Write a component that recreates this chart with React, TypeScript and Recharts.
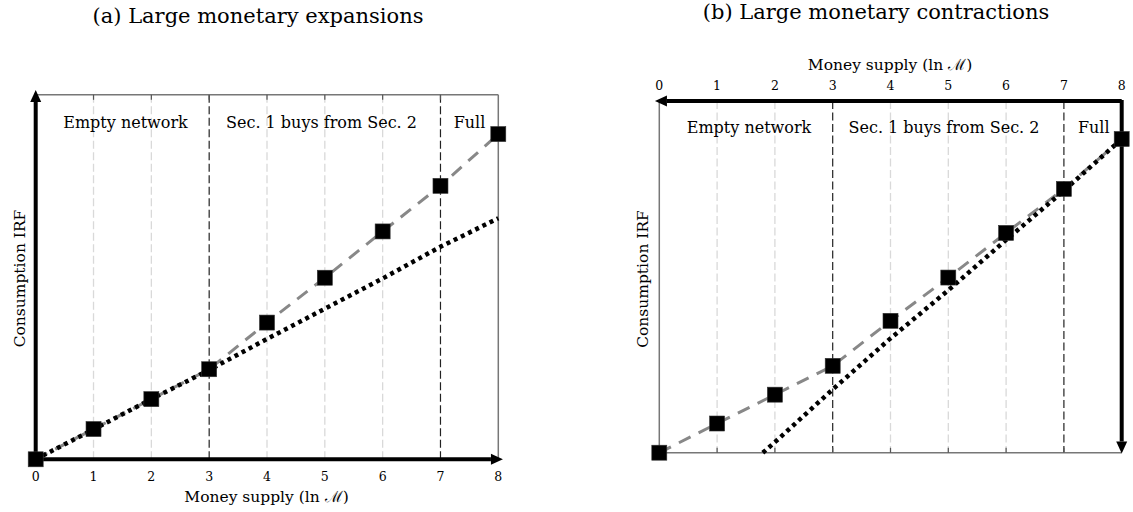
import React from 'react';
import { ComposedChart, Line, Scatter, XAxis, YAxis, ReferenceLine } from 'recharts';

// money supply grid (ln M)
const moneyTicks = [0, 1, 2, 3, 4, 5, 6, 7, 8];
const regimeBreaks = [3, 7];
const lightGrid = [1, 2, 4, 5, 6];
const borderTicks = [1, 2, 3, 4, 5, 6, 7];

// consumption IRF at each ln M (same in both panels)
const irfSquares = [0, 0.83, 1.65, 2.47, 3.75, 4.98, 6.25, 7.5, 8.92];

// dotted benchmark, expansions
const expansionDotted = [0, 0.82, 1.65, 2.45, 3.3, 4.13, 4.96, 5.83, 6.61];

// dotted benchmark, contractions
const contractionDottedX = [1.79, 2, 3, 4, 5, 6, 7, 8];
const contractionDotted = [0, 0.3, 1.8, 3.25, 4.62, 6.05, 7.45, 8.92];

const squareData = moneyTicks.map((x, i) => ({ x, y: irfSquares[i] }));
const expDottedData = moneyTicks.map((x, i) => ({ x, y: expansionDotted[i] }));
const conDottedData = contractionDottedX.map((x, i) => ({ x, y: contractionDotted[i] }));

const FONT = '"DejaVu Serif", "Liberation Serif", serif';

const SquareMark = (props: any) => {
  const { cx, cy } = props;
  if (cx == null || cy == null) return null;
  return <rect x={cx - 7.5} y={cy - 7.5} width={15} height={15} fill="#000" stroke="#333" strokeWidth={0.6} />;
};

const arrowShape = (props: any) => {
  const { x1, y1, x2, y2 } = props;
  const dx = x2 - x1;
  const dy = y2 - y1;
  const len = Math.hypot(dx, dy) || 1;
  const ux = dx / len;
  const uy = dy / len;
  const head = 12;
  const half = 5.5;
  const bx = x2 - ux * head;
  const by = y2 - uy * head;
  return (
    <g>
      <line x1={x1} y1={y1} x2={bx} y2={by} stroke="#000" strokeWidth={4} />
      <polygon
        points={`${x2},${y2} ${bx - uy * half},${by + ux * half} ${bx + uy * half},${by - ux * half}`}
        fill="#000"
      />
    </g>
  );
};

const gridLines = () => [
  ...lightGrid.map((v) => (
    <ReferenceLine key={`g${v}`} x={v} stroke="#d9d9d9" strokeWidth={1.3} strokeDasharray="8 3.5" />
  )),
  ...regimeBreaks.map((v) => (
    <ReferenceLine key={`b${v}`} x={v} stroke="#222" strokeWidth={1.2} strokeDasharray="8 3.5" />
  )),
];

const tickStyle = { fill: '#000', fontSize: 12.5, fontFamily: FONT };

const ExpansionPanel = () => (
  <div style={{ position: 'absolute', left: 0, top: 0 }}>
    <ComposedChart width={560} height={512} margin={{ top: 94.7, right: 61.7, bottom: 22.7, left: 35.7 }}>
      <XAxis
        type="number"
        dataKey="x"
        domain={[0, 8]}
        ticks={moneyTicks}
        height={30}
        axisLine={false}
        tickLine={false}
        tickSize={10}
        tickMargin={3}
        tick={tickStyle}
      />
      <YAxis type="number" domain={[0, 10]} hide />
      {gridLines()}
      <ReferenceLine y={10} stroke="#777" strokeWidth={1.5} />
      <ReferenceLine x={8} stroke="#777" strokeWidth={1.5} />
      {borderTicks.map((v) => (
        <ReferenceLine key={`t${v}`} segment={[{ x: v, y: 10 }, { x: v, y: 9.86 }]} stroke="#555" strokeWidth={1.2} />
      ))}
      <Line data={squareData} dataKey="y" type="linear" stroke="#888" strokeWidth={3} strokeDasharray="13 9" dot={false} isAnimationActive={false} />
      <Scatter data={squareData} dataKey="y" shape={SquareMark} isAnimationActive={false} />
      <Line data={expDottedData} dataKey="y" type="linear" stroke="#000" strokeWidth={4.5} strokeDasharray="4 4" dot={false} isAnimationActive={false} />
      <ReferenceLine segment={[{ x: 0, y: -0.05 }, { x: 0, y: 10.13 }]} ifOverflow="visible" shape={arrowShape} />
      <ReferenceLine segment={[{ x: -0.03, y: 0 }, { x: 8.08, y: 0 }]} ifOverflow="visible" shape={arrowShape} />
    </ComposedChart>
  </div>
);

const ContractionPanel = () => (
  <div style={{ position: 'absolute', left: 600, top: 0 }}>
    <ComposedChart width={533} height={512} margin={{ top: 71, right: 11.3, bottom: 59.3, left: 59.3 }}>
      <XAxis
        type="number"
        dataKey="x"
        orientation="top"
        domain={[0, 8]}
        ticks={moneyTicks}
        height={30}
        axisLine={false}
        tickLine={false}
        tickSize={8}
        tickMargin={3}
        tick={tickStyle}
      />
      <YAxis type="number" domain={[0, 10]} hide />
      {gridLines()}
      <ReferenceLine y={0} stroke="#777" strokeWidth={1.5} />
      <ReferenceLine x={0} stroke="#777" strokeWidth={1.5} />
      {borderTicks.map((v) => (
        <ReferenceLine key={`t${v}`} segment={[{ x: v, y: 0 }, { x: v, y: 0.14 }]} stroke="#555" strokeWidth={1.2} />
      ))}
      <Line data={squareData} dataKey="y" type="linear" stroke="#888" strokeWidth={3} strokeDasharray="13 9" dot={false} isAnimationActive={false} />
      <Scatter data={squareData} dataKey="y" shape={SquareMark} isAnimationActive={false} />
      <Line data={conDottedData} dataKey="y" type="linear" stroke="#000" strokeWidth={4.5} strokeDasharray="4 4" dot={false} isAnimationActive={false} />
      <ReferenceLine segment={[{ x: 8, y: 10 }, { x: -0.075, y: 10 }]} ifOverflow="visible" shape={arrowShape} />
      <ReferenceLine segment={[{ x: 8, y: 10.03 }, { x: 8, y: -0.02 }]} ifOverflow="visible" shape={arrowShape} />
    </ComposedChart>
  </div>
);

const Labels = () => (
  <svg width={1133} height={512} style={{ position: 'absolute', left: 0, top: 0, pointerEvents: 'none' }} fontFamily={FONT}>
    <text x={258} y={23} fontSize={21} textAnchor="middle" fill="#000">(a) Large monetary expansions</text>
    <text x={876} y={19} fontSize={21} textAnchor="middle" fill="#000">(b) Large monetary contractions</text>

    <text x={125.5} y={128} fontSize={16} textAnchor="middle">Empty network</text>
    <text x={321.5} y={128} fontSize={16} textAnchor="middle">Sec. 1 buys from Sec. 2</text>
    <text x={469.5} y={128} fontSize={16} textAnchor="middle">Full</text>

    <text x={749} y={133} fontSize={16} textAnchor="middle">Empty network</text>
    <text x={944} y={133} fontSize={16} textAnchor="middle">Sec. 1 buys from Sec. 2</text>
    <text x={1093.7} y={133} fontSize={16} textAnchor="middle">Full</text>

    <text x={266.5} y={501.5} fontSize={15.5} textAnchor="middle">
      Money supply (ln ℳ)
    </text>
    <text x={890} y={70} fontSize={15.5} textAnchor="middle">
      Money supply (ln ℳ)
    </text>

    <text x={25} y={278.5} fontSize={15.5} textAnchor="middle" transform="rotate(-90 25 278.5)">Consumption IRF</text>
    <text x={648} y={279} fontSize={15.5} textAnchor="middle" transform="rotate(-90 648 279)">Consumption IRF</text>
  </svg>
);

export default function App() {
  return (
    <div style={{ position: 'absolute', left: 0, top: 0, width: 1133, height: 512, background: '#fff', fontFamily: FONT }}>
      <ExpansionPanel />
      <ContractionPanel />
      <Labels />
    </div>
  );
}
